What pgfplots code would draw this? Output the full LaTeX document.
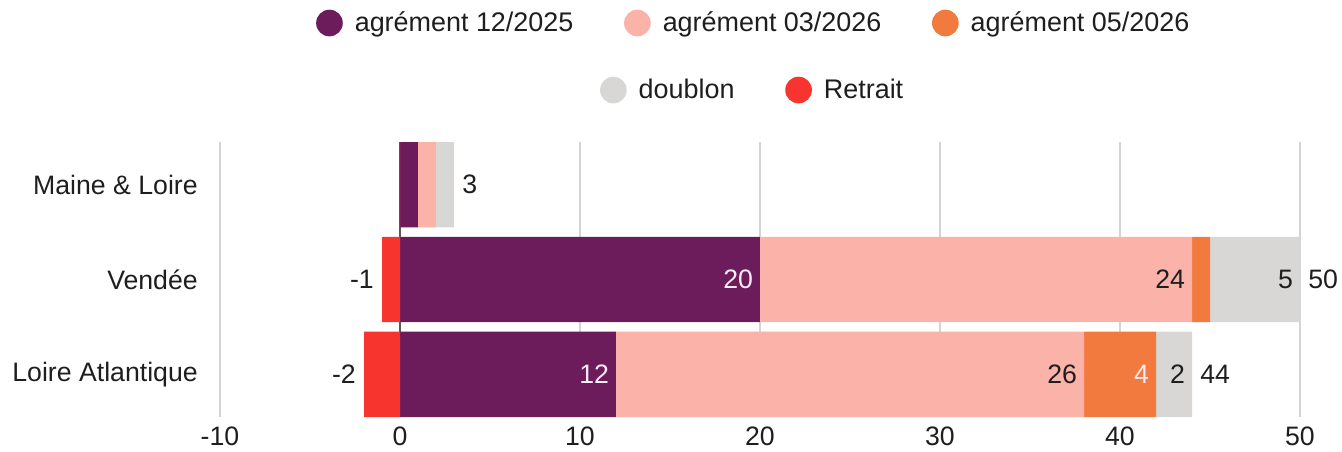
\documentclass[border=0pt]{standalone}
\usepackage{fontspec}
\setmainfont{Liberation Sans}
\usepackage{pgfplots}
\usepackage{pgfplotstable}
\pgfplotsset{compat=1.18}
\definecolor{cPurple}{RGB}{108,28,90}
\definecolor{cSalmon}{RGB}{251,178,168}
\definecolor{cOrange}{RGB}{243,122,62}
\definecolor{cGray}{RGB}{217,214,214}
\definecolor{cRed}{RGB}{247,52,46}
\definecolor{cText}{RGB}{30,30,30}
\definecolor{cWhite}{RGB}{250,236,245}
\definecolor{cGrid}{RGB}{212,212,212}
\newcommand\lblfont{\fontsize{20pt}{24pt}\selectfont}
\newcommand\lgdfont{\fontsize{20.2pt}{24pt}\selectfont}

\pgfplotstableread{
y a b c d
2 1 1 0 1
1 20 24 1 5
0 12 26 4 2
}\data
\pgfplotstableread{
y r
2 0
1 -1
0 -2
}\retrait

\tikzset{
  vl/.style={font=\lblfont, inner sep=0pt, text=cText},
  vin/.style={vl, anchor=east, xshift=-5pt},
  vout/.style={vl, anchor=west, xshift=6pt},
  vneg/.style={vl, anchor=east, xshift=-6pt},
}
\pgfplotsset{
  base/.style={
    scale only axis, width=810pt, height=206.25pt,
    at={(0pt,0pt)}, anchor=south west,
    xmin=-10, xmax=50, ymin=-0.45, ymax=2.45,
    bar width=0.9,
  },
  leg/.style={legend image code/.code={\fill (0pt,0pt) circle (10pt);}},
  lgdst/.style={
    draw=none, fill=none, inner sep=0pt, outer sep=0pt,
    font=\lgdfont, text=cText,
    /tikz/every odd column/.append style={column sep=7pt},
    /tikz/every even column/.append style={column sep=36pt},
  },
}

\begin{document}
\begin{tikzpicture}
\path[use as bounding box] (-165pt,-25.5pt) rectangle (841.5pt,312.75pt);
\begin{axis}[base,
  xbar stacked,
  clip=false,
  axis line style={draw=none},
  major tick length=0pt,
  tick style={draw=none},
  xmajorgrids,
  grid style={cGrid, line width=0.8pt},
  xtick={-10,0,10,20,30,40,50},
  xticklabels={-10,0,10,20,30,40,50},
  ytick={0,1,2},
  yticklabels={Loire Atlantique,Vendée,Maine \& Loire},
  ticklabel style={font=\lblfont, text=cText, inner sep=0pt},
  xticklabel style={anchor=north, yshift=-7.5pt},
  yticklabel style={anchor=east, xshift=-16.5pt},
  legend columns=3,
  legend style={lgdst, at={(0.4945,1.4327)}, anchor=center},
]
\addplot[fill=cPurple, draw=none, leg] table[x=a, y=y]{\data};
\addlegendentry{agrément 12/2025}
\addplot[fill=cSalmon, draw=none, leg] table[x=b, y=y]{\data};
\addlegendentry{agrément 03/2026}
\addplot[fill=cOrange, draw=none, leg] table[x=c, y=y]{\data};
\addlegendentry{agrément 05/2026}
\addplot[fill=cGray, draw=none, leg] table[x=d, y=y]{\data};

\draw[black!65, line width=0.8pt] (axis cs:0,-0.45) -- (axis cs:0,2.45);
\end{axis}

\begin{axis}[base,
  hide axis,
  clip=false,
  legend columns=2,
  legend style={lgdst, at={(0.4935,1.189)}, anchor=center},
]
\addlegendimage{fill=cGray, draw=none, leg}
\addlegendentry{doublon}
\addplot[xbar, fill=cRed, draw=none, leg] table[x=r, y=y]{\retrait};
\addlegendentry{Retrait}

\node[vin, text=cWhite] at (axis cs:20,1) {20};
\node[vin] at (axis cs:44,1) {24};
\node[vin] at (axis cs:50,1) {5};
\node[vout] at (axis cs:50,1) {50};
\node[vneg] at (axis cs:-1,1) {-1};
\node[vin, text=cWhite] at (axis cs:12,0) {12};
\node[vin] at (axis cs:38,0) {26};
\node[vin, text=cWhite] at (axis cs:42,0) {4};
\node[vin] at (axis cs:44,0) {2};
\node[vout] at (axis cs:44,0) {44};
\node[vneg] at (axis cs:-2,0) {-2};
\node[vout] at (axis cs:3,2) {3};
\end{axis}
\end{tikzpicture}
\end{document}
